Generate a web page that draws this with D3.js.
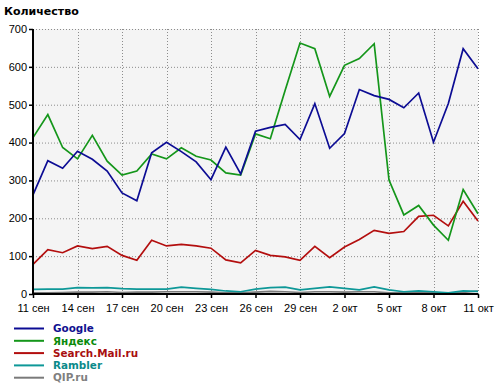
<!DOCTYPE html>
<html>
<head>
<meta charset="utf-8">
<script src="https://cdn.jsdelivr.net/npm/d3@7"></script>
<style>
  body { margin: 0; background: #fff; }
  svg { display: block; font-family: "DejaVu Sans", Verdana, sans-serif; }
  .grid line { stroke: #8c8c8c; stroke-dasharray: 1,2; }
  .tick text { font-size: 11px; fill: #000; }
</style>
</head>
<body>
<script>
"use strict";
// 11 сен .. 11 окт, one point per day
const days = d3.range(0, 31);
const tickDays = [0, 3, 6, 9, 12, 15, 18, 21, 24, 27, 30];
const tickLabels = ["11 сен", "14 сен", "17 сен", "20 сен", "23 сен", "26 сен",
                    "29 сен", "2 окт", "5 окт", "8 окт", "11 окт"];
const yTicks = [0, 100, 200, 300, 400, 500, 600, 700];

const google = [262, 352, 332, 377, 356, 325, 267, 246, 373, 401, 376,
                349, 302, 388, 317, 430, 440, 448, 408, 503, 385,
                424, 540, 524, 514, 492, 531, 401, 503, 648, 595];
const yandex = [413, 474, 387, 357, 419, 351, 314, 325, 370, 357, 386,
                364, 354, 320, 314, 423, 410, 538, 663, 648, 522,
                604, 622, 661, 301, 209, 234, 182, 142, 276, 212];
const mail   = [78, 117, 109, 127, 120, 126, 102, 89, 142, 127, 131,
                127, 121, 90, 82, 115, 102, 98, 89, 126, 96,
                124, 144, 168, 160, 165, 205, 208, 180, 245, 193];
const rambler = [12, 13, 13, 17, 16, 17, 14, 13, 13, 13, 18,
                 15, 12, 8, 6, 13, 17, 18, 11, 15, 19,
                 15, 11, 19, 11, 6, 8, 6, 3, 8, 7];
const qip    = [3, 3, 4, 5, 5, 6, 4, 5, 5, 6, 6,
                6, 5, 3, 3, 5, 7, 6, 4, 6, 6,
                5, 6, 6, 3, 3, 3, 3, 2, 4, 8];

const seriesNames = ["Google", "Яндекс", "Search.Mail.ru", "Rambler", "QIP.ru"];
const seriesValues = [google, yandex, mail, rambler, qip];
const lineColors = ["#0c0c94", "#14961a", "#b30e0e", "#0e9898", "#7a7a7a"];
const textColors = ["#101090", "#0a8a0a", "#a80f0f", "#0a8a8a", "#808080"];

const width = 500, height = 389;
const margin = { left: 33, right: 22, top: 29, bottom: 95 };

const svg = d3.select("body").append("svg")
    .attr("width", width)
    .attr("height", height);

const x = d3.scaleLinear()
    .domain([0, 30])
    .range([margin.left, width - margin.right]);
const y = d3.scaleLinear()
    .domain([0, 700])
    .range([height - margin.bottom, margin.top]);

// plot background
svg.append("rect")
    .attr("x", x(0)).attr("y", y(700))
    .attr("width", x(30) - x(0)).attr("height", y(0) - y(700))
    .attr("fill", "#f4f4f4");

// grid
svg.append("g").attr("class", "grid")
    .selectAll("line").data(yTicks.slice(1)).enter().append("line")
    .attr("x1", x(0)).attr("x2", x(30))
    .attr("y1", d => y(d) + 0.5).attr("y2", d => y(d) + 0.5);
svg.append("g").attr("class", "grid")
    .selectAll("line").data(tickDays.slice(1)).enter().append("line")
    .attr("x1", d => Math.round(x(d)) + 0.5).attr("x2", d => Math.round(x(d)) + 0.5)
    .attr("y1", y(700)).attr("y2", y(0));

// lines, drawn so Google ends up on top
const line = d3.line()
    .x((d, i) => x(days[i]))
    .y(d => y(d));
for (let k = seriesValues.length - 1; k >= 0; k--) {
    svg.append("path")
        .datum(seriesValues[k])
        .attr("fill", "none")
        .attr("stroke", lineColors[k])
        .attr("stroke-width", 1.7)
        .attr("stroke-linejoin", "miter")
        .attr("d", line);
}

// axes
const xAxis = d3.axisBottom(x)
    .tickValues(tickDays)
    .tickFormat((d, i) => tickLabels[i])
    .tickSize(4)
    .tickPadding(6);
const yAxis = d3.axisLeft(y)
    .tickValues(yTicks)
    .tickSize(4)
    .tickPadding(2);

const gx = svg.append("g")
    .attr("transform", "translate(0," + y(0) + ")")
    .call(xAxis);
gx.select(".domain").attr("stroke", "#000").attr("stroke-width", 2)
    .attr("d", "M" + (x(0) - 1) + ",0H" + x(30));
gx.selectAll(".tick line").attr("stroke", "#000").attr("stroke-width", 1.5);

const gy = svg.append("g")
    .attr("transform", "translate(" + x(0) + ",0)")
    .call(yAxis);
gy.select(".domain").attr("stroke", "#000").attr("stroke-width", 2)
    .attr("d", "M0," + y(700) + "V" + (y(0) + 1));
gy.selectAll(".tick line").attr("stroke", "#000").attr("stroke-width", 1.5);
gy.selectAll(".tick text").attr("dy", "0.3em");

// title
svg.append("text")
    .attr("x", 4).attr("y", 15)
    .style("font-size", "11px")
    .style("font-weight", "bold")
    .text("Количество");

// legend
const legend = svg.append("g")
    .selectAll("g").data(seriesNames).enter().append("g")
    .attr("transform", (d, i) => "translate(0," + (328.5 + i * 12.3) + ")");
legend.append("line")
    .attr("x1", 14).attr("x2", 44)
    .attr("y1", 0).attr("y2", 0)
    .attr("stroke", (d, i) => lineColors[i])
    .attr("stroke-width", 2);
legend.append("text")
    .attr("x", 53).attr("y", 0).attr("dy", "0.36em")
    .style("font-size", "10.4px")
    .style("font-weight", "bold")
    .attr("fill", (d, i) => textColors[i])
    .text(d => d);
</script>
</body>
</html>
